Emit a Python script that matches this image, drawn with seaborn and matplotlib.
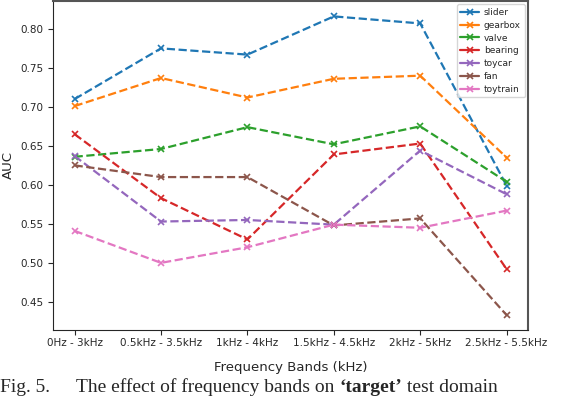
import matplotlib
matplotlib.use("Agg")
import matplotlib.pyplot as plt
from matplotlib.lines import Line2D
import seaborn as sns

# Frequency bands on the x axis
bands = ["0Hz - 3kHz", "0.5kHz - 3.5kHz", "1kHz - 4kHz",
         "1.5kHz - 4.5kHz", "2kHz - 5kHz", "2.5kHz - 5.5kHz"]

# AUC per machine type
slider = [0.710, 0.775, 0.767, 0.816, 0.807, 0.599]
gearbox = [0.701, 0.737, 0.712, 0.736, 0.740, 0.635]
valve = [0.636, 0.646, 0.674, 0.652, 0.675, 0.604]
bearing = [0.665, 0.583, 0.530, 0.639, 0.653, 0.492]
toycar = [0.637, 0.553, 0.555, 0.549, 0.644, 0.588]
fan = [0.625, 0.610, 0.610, 0.548, 0.557, 0.433]
toytrain = [0.541, 0.500, 0.520, 0.549, 0.545, 0.567]

machines = ["slider", "gearbox", "valve", "bearing", "toycar", "fan", "toytrain"]
series = [slider, gearbox, valve, bearing, toycar, fan, toytrain]

sns.set_style("ticks")
plt.rcParams["font.family"] = ["DejaVu Sans"]
colors = sns.color_palette("tab10")

fig = plt.figure(figsize=(5.76, 3.98), dpi=100)
ax = fig.add_axes([0.092, 0.171, 0.825, 0.827])

handles = []
for i, (name, vals) in enumerate(zip(machines, series)):
    sns.lineplot(x=bands, y=vals, ax=ax, marker="x", linestyle="--",
                 color=colors[i], linewidth=1.6, markersize=5,
                 markeredgewidth=1.2, markeredgecolor=colors[i])
    handles.append(Line2D([], [], color=colors[i], marker="x", linestyle="-",
                          linewidth=1.6, markersize=5, markeredgewidth=1.2))

ax.set_ylim(0.414, 0.836)
ax.set_yticks([0.45, 0.50, 0.55, 0.60, 0.65, 0.70, 0.75, 0.80])
ax.set_yticklabels([f"{t:.2f}" for t in ax.get_yticks()])
ax.tick_params(labelsize=7.5, length=3.5)
ax.tick_params(axis="x", pad=2)
ax.set_xlabel("Frequency Bands (kHz)", fontsize=9.5, labelpad=10)
ax.set_ylabel("AUC", fontsize=9.5)
for s in ["top", "right"]:
    ax.spines[s].set_visible(True)
    ax.spines[s].set_color("#555555")
    ax.spines[s].set_linewidth(1.5)

ax.legend(handles, machines, loc="upper right", fontsize=6.5, handlelength=2,
          labelspacing=0.42, borderaxespad=0.4, handletextpad=0.6, frameon=True)

# caption below the chart
fig.canvas.draw()
r = fig.canvas.get_renderer()
y0 = 0.014
fs = 14
t1 = fig.text(0.0, y0, "Fig. 5.", family="Liberation Serif", fontsize=fs, va="baseline")
t2 = fig.text(76 / 576, y0, "The effect of frequency bands on ", family="Liberation Serif",
              fontsize=fs, va="baseline")
bb = t2.get_window_extent(r)
t3 = fig.text(bb.x1 / fig.bbox.width, y0, "\u2018target\u2019", family="Liberation Serif",
              fontsize=fs, fontweight="bold", va="baseline")
bb = t3.get_window_extent(r)
fig.text(bb.x1 / fig.bbox.width, y0, " test domain", family="Liberation Serif",
         fontsize=fs, va="baseline")

fig.savefig("out.png", dpi=100)
